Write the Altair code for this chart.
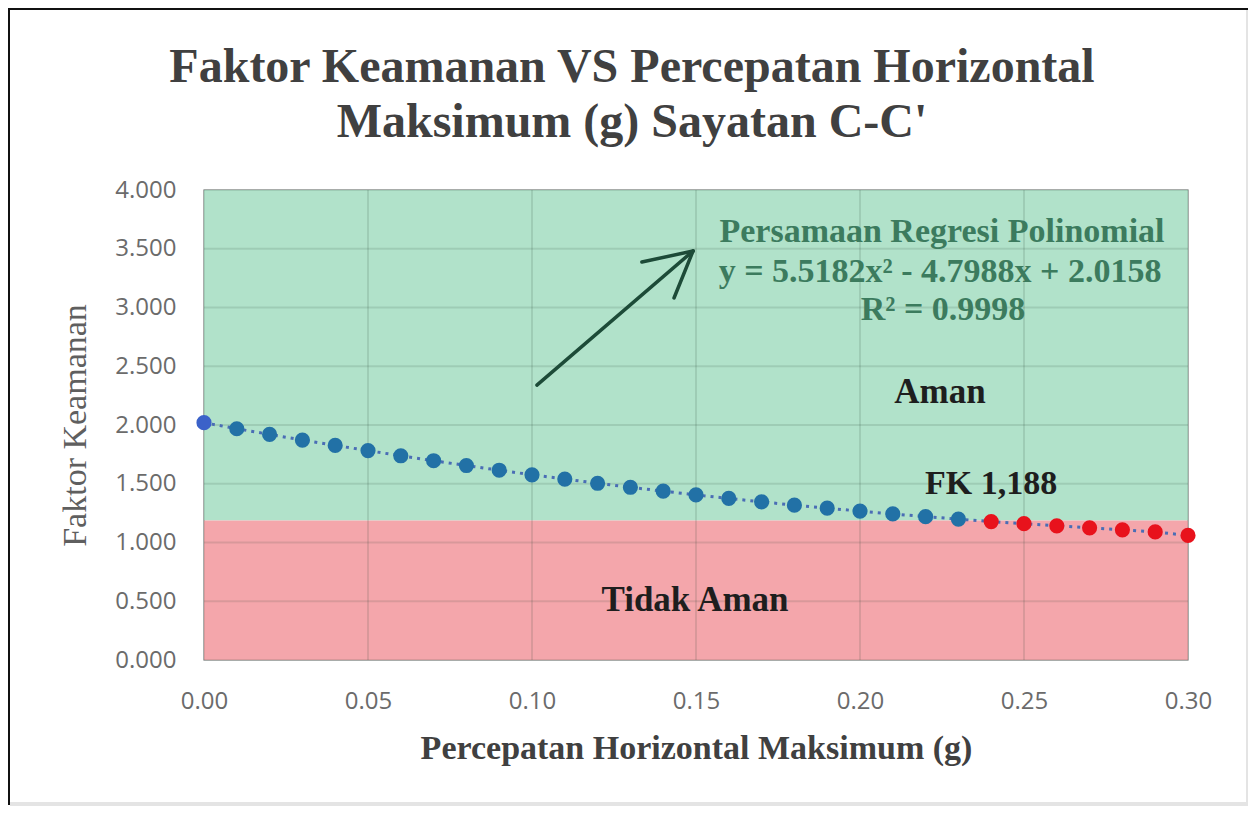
import altair as alt
import pandas as pd

# ---- data ----
pga = [0.00, 0.01, 0.02, 0.03, 0.04, 0.05, 0.06, 0.07, 0.08, 0.09, 0.10,
       0.11, 0.12, 0.13, 0.14, 0.15, 0.16, 0.17, 0.18, 0.19, 0.20,
       0.21, 0.22, 0.23, 0.24, 0.25, 0.26, 0.27, 0.28, 0.29, 0.30]
fk = [2.020, 1.968, 1.920, 1.872, 1.826, 1.782, 1.738, 1.696, 1.655, 1.615, 1.576,
      1.540, 1.504, 1.470, 1.437, 1.405, 1.375, 1.346, 1.318, 1.292, 1.267,
      1.243, 1.220, 1.199, 1.178, 1.160, 1.142, 1.125, 1.108, 1.090, 1.060]
kelompok = (["Awal"] + ["Aman"] * 23 + ["Tidak Aman"] * 7)

fk_batas = 1.188
x_ticks = [0.00, 0.05, 0.10, 0.15, 0.20, 0.25, 0.30]
y_ticks = [0.0, 0.5, 1.0, 1.5, 2.0, 2.5, 3.0, 3.5, 4.0]

zona_nama = ["Aman", "Tidak Aman"]
zona_bawah = [fk_batas, 0.0]
zona_atas = [4.0, fk_batas]
zona_warna = ["#b1e2ca", "#f4a6ab"]

# arrow segments (data coords): shaft + two barbs
panah_x = [0.1015, 0.1491, 0.1491]
panah_y = [2.340, 3.481, 3.481]
panah_x2 = [0.1491, 0.1335, 0.1433]
panah_y2 = [3.481, 3.387, 3.081]

label_teks = ["Persamaan Regresi Polinomial",
              "y = 5.5182x² - 4.7988x + 2.0158",
              "R² = 0.9998",
              "Aman", "FK 1,188", "Tidak Aman"]
label_x = [0.2250, 0.2244, 0.2253, 0.2244, 0.2400, 0.1497]
label_y = [3.643, 3.302, 2.979, 2.281, 1.498, 0.511]
label_warna = ["#3c7b5e", "#3c7b5e", "#3c7b5e", "#1e1e1e", "#1e1e1e", "#1e1e1e"]
label_ukuran = [34, 34, 34, 35, 34, 35]

judul = ["Faktor Keamanan VS Percepatan Horizontal", "Maksimum (g) Sayatan C-C'"]

# ---- tables ----
df = pd.DataFrame({"pga": pga, "fk": fk, "kelompok": kelompok})
zona = pd.DataFrame({"zona": zona_nama, "y0": zona_bawah, "y1": zona_atas,
                     "x0": [0.0, 0.0], "x1": [0.30, 0.30], "warna": zona_warna})
gx = pd.DataFrame({"gx": x_ticks})
gy = pd.DataFrame({"gy": y_ticks})
panah = pd.DataFrame({"x": panah_x, "y": panah_y, "x2": panah_x2, "y2": panah_y2})
labels = pd.DataFrame({"teks": label_teks, "x": label_x, "y": label_y,
                       "warna": label_warna, "ukuran": label_ukuran})

xs = alt.Scale(domain=[0, 0.30], nice=False, zero=False)
ys = alt.Scale(domain=[0, 4.0], nice=False)

SERIF = "Liberation Serif"
SANS = "Open Sans"

x_axis = alt.Axis(values=x_ticks, format=".2f", title="Percepatan Horizontal Maksimum (g)",
                  titleFont=SERIF, titleFontSize=34, titleFontWeight="bold",
                  titleColor="#404040", titlePadding=18,
                  labelFont=SANS, labelFontSize=24, labelColor="#6b6b6b",
                  labelPadding=29, labelFlush=False, labelOverlap=False,
                  ticks=False, domain=False, grid=False)
y_axis = alt.Axis(values=y_ticks, format=".3f", title="Faktor Keamanan",
                  titleFont=SERIF, titleFontSize=34, titleFontWeight="normal",
                  titleColor="#5f5f5f", titlePadding=22,
                  labelFont=SANS, labelFontSize=24, labelColor="#6b6b6b",
                  labelPadding=28, labelFlush=False, labelOverlap=False,
                  ticks=False, domain=False, grid=False)


def X(f):
    return alt.X(f, scale=xs, axis=x_axis)


def Y(f):
    return alt.Y(f, scale=ys, axis=y_axis)


bg = alt.Chart(zona).mark_rect().encode(
    x=X("x0:Q"), x2="x1:Q", y=Y("y0:Q"), y2="y1:Q",
    color=alt.Color("warna:N", scale=None),
)

grid_v = alt.Chart(gx).mark_rule(color="#204030", opacity=0.13, strokeWidth=2).encode(
    x=X("gx:Q"))
grid_h = alt.Chart(gy).mark_rule(color="#204030", opacity=0.13, strokeWidth=2).encode(
    y=Y("gy:Q"))

garis = alt.Chart(df).mark_line(color="#4a6db5", strokeWidth=3, strokeDash=[3, 5]).encode(
    x=X("pga:Q"), y=Y("fk:Q"), order="pga:Q",
)

titik = alt.Chart(df).mark_circle(size=230, opacity=1).encode(
    x=X("pga:Q"), y=Y("fk:Q"),
    color=alt.Color("kelompok:N",
                    scale=alt.Scale(domain=["Awal", "Aman", "Tidak Aman"],
                                    range=["#3b62c9", "#2271a6", "#e8121c"]),
                    legend=None),
)

arrow = alt.Chart(panah).mark_rule(color="#1d4b38", strokeWidth=3.5, strokeCap="round").encode(
    x=X("x:Q"), x2="x2:Q", y=Y("y:Q"), y2="y2:Q",
)

teks = alt.Chart(labels).mark_text(font=SERIF, fontWeight="bold", align="center",
                                   baseline="middle").encode(
    x=X("x:Q"), y=Y("y:Q"),
    text="teks:N",
    color=alt.Color("warna:N", scale=None),
    size=alt.Size("ukuran:Q", scale=None, legend=None),
)

one = pd.DataFrame({"a": [0]})
judul1 = alt.Chart(one).mark_text(text=judul[0], font=SERIF, fontSize=48, fontWeight="bold",
                                  color="#404040", align="center", baseline="alphabetic").encode(
    x=alt.value(428), y=alt.value(-108))
judul2 = alt.Chart(one).mark_text(text=judul[1], font=SERIF, fontSize=48, fontWeight="bold",
                                  color="#404040", align="center", baseline="alphabetic").encode(
    x=alt.value(428), y=alt.value(-53))

frame_top = alt.Chart(one).mark_rule(color="#111111", strokeWidth=2).encode(
    x=alt.value(-196), x2=alt.value(1044), y=alt.value(-181))
frame_left = alt.Chart(one).mark_rule(color="#111111", strokeWidth=2).encode(
    x=alt.value(-195), y=alt.value(-182), y2=alt.value(615))
frame_right = alt.Chart(one).mark_rule(color="#e4e4e4", strokeWidth=4).encode(
    x=alt.value(1044), y=alt.value(-180), y2=alt.value(615))
frame_bottom = alt.Chart(one).mark_rule(color="#e4e4e4", strokeWidth=4).encode(
    x=alt.value(-194), x2=alt.value(1044), y=alt.value(614))

chart = alt.layer(
    bg, grid_v, grid_h, garis, titik, arrow, teks, judul1, judul2,
    frame_top, frame_left, frame_right, frame_bottom,
).properties(
    width=984, height=470,
    autosize=alt.AutoSizeParams(type="none"),
    padding={"left": 196, "top": 182, "right": 60, "bottom": 146},
    background="white",
).configure_view(stroke="#a8a8a8", strokeWidth=1.5)

chart.save("out.html", embed_options={"renderer": "svg", "actions": False})
